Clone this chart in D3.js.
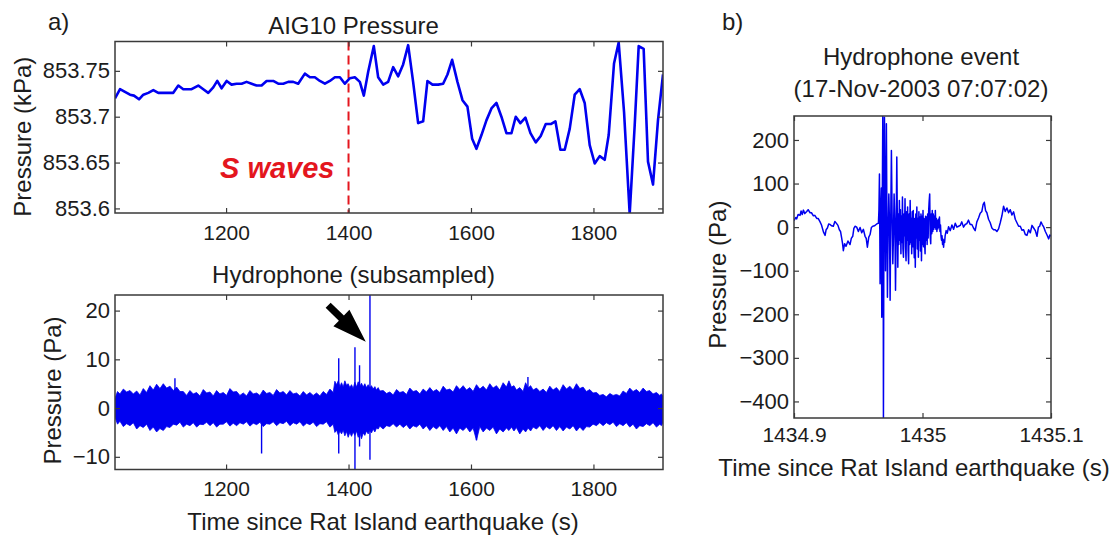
<!DOCTYPE html>
<html>
<head>
<meta charset="utf-8">
<script src="https://cdn.jsdelivr.net/npm/d3@7"></script>
<style>
  html, body { margin: 0; padding: 0; background: #ffffff; }
  svg text { font-family: "Liberation Sans", Arial, Helvetica, sans-serif; fill: #1c1c1c; }
</style>
</head>
<body>
<svg id="fig" width="1118" height="536"></svg>
<script>
// ---------- AIG10 absolute pressure (kPa) ----------
const aigTime = [
  1018.6,1026.8,1034.9,1043.1,1049.6,1057.8,1064.9,1073.0,1081.2,1089.3,
  1097.5,1113.8,1122.0,1130.1,1143.7,1154.6,1162.8,1170.9,1179.1,1185.6,
  1192.7,1200.9,1209.0,1217.2,1225.4,1233.5,1241.7,1249.8,1258.0,1266.2,
  1277.0,1285.2,1293.4,1301.5,1309.7,1317.8,1328.7,1336.9,1345.0,1353.2,
  1361.4,1369.5,1377.7,1385.9,1394.0,1402.2,1410.3,1418.5,1425.0,1432.1,
  1441.3,1448.4,1456.6,1464.7,1472.9,1481.1,1489.2,1497.4,1505.5,1513.7,
  1521.9,1528.9,1537.1,1546.4,1554.5,1561.6,1569.2,1577.9,1586.1,1594.2,
  1601.9,1608.9,1617.1,1625.2,1633.4,1641.6,1649.7,1657.9,1666.1,1673.1,
  1680.7,1688.9,1697.1,1705.8,1713.9,1722.1,1730.3,1737.9,1746.0,1753.1,
  1761.3,1769.4,1777.6,1785.7,1793.9,1802.1,1810.2,1818.4,1824.9,1833.6,
  1841.2,1850.0,1859.2,1867.4,1873.9,1882.0,1889.1,1897.3,1905.4,1913.6
];
const aigPressure = [
  853.720,853.730,853.727,853.724,853.723,853.719,853.724,853.726,853.729,853.726,
  853.726,853.726,853.734,853.730,853.730,853.734,853.730,853.726,853.732,853.739,
  853.731,853.739,853.735,853.736,853.736,853.738,853.736,853.734,853.734,853.739,
  853.739,853.736,853.736,853.738,853.738,853.736,853.747,853.743,853.743,853.739,
  853.736,853.739,853.743,853.743,853.736,853.742,853.743,853.738,853.723,853.749,
  853.777,853.743,853.735,853.738,853.754,853.744,853.757,853.778,853.738,853.693,
  853.695,853.739,853.735,853.735,853.736,853.746,853.762,853.738,853.718,853.711,
  853.676,853.665,853.680,853.696,853.709,853.715,853.700,853.682,853.682,853.700,
  853.693,853.699,853.682,853.672,853.679,853.692,853.692,853.695,853.664,853.664,
  853.687,853.724,853.730,853.715,853.669,853.649,853.657,853.653,853.680,853.758,
  853.781,853.705,853.594,853.691,853.777,853.774,853.651,853.626,853.696,853.746
];
const sWaveTime = 1400;

// ---------- subsampled hydrophone record (Pa) ----------
// noise band: troughs of the ragged edge ...
const hydTime = [
  1018.6,1026.7,1037.6,1048.5,1059.4,1070.2,1081.1,1092.0,1102.9,1113.8,
  1124.7,1135.5,1146.4,1157.3,1168.2,1179.1,1189.9,1200.8,1211.7,1222.6,
  1233.5,1244.4,1255.3,1266.1,1277.0,1287.9,1298.8,1309.7,1320.6,1331.5,
  1342.3,1353.2,1364.1,1375.0,1380.4,1385.9,1391.3,1396.7,1402.1,1407.6,
  1413.0,1418.5,1423.9,1429.3,1434.8,1440.2,1445.7,1451.1,1462.0,1472.9,
  1483.8,1494.7,1505.5,1516.4,1527.3,1538.2,1549.1,1560.0,1570.8,1581.7,
  1592.6,1603.5,1614.4,1625.3,1636.1,1647.0,1657.9,1666.1,1674.2,1685.1,
  1693.3,1701.5,1712.4,1723.2,1734.1,1745.0,1755.9,1766.8,1777.7,1788.5,
  1799.4,1810.3,1821.2,1832.1,1843.0,1853.8,1864.7,1875.6,1886.5,1897.4,
  1908.3,1913.7
];
const hydUpper = [
  2.0,2.9,3.3,2.9,2.7,3.2,3.7,4.0,4.1,3.6,
  3.4,2.6,2.9,2.5,3.1,2.5,2.9,2.6,3.3,2.6,
  2.5,2.9,2.6,3.0,2.6,3.1,2.7,2.9,2.5,2.7,
  2.6,2.5,2.8,3.2,4.8,4.4,4.3,4.7,4.2,4.0,
  4.3,4.5,4.3,4.2,4.1,3.9,3.7,3.5,3.0,2.7,
  3.2,2.8,3.4,2.9,3.3,3.4,3.2,3.7,3.3,3.8,
  3.7,3.4,3.9,3.7,4.1,3.7,4.3,4.3,3.7,3.4,
  4.1,3.7,3.4,3.2,3.7,3.4,3.9,3.7,4.0,3.4,
  3.1,2.6,2.3,2.6,2.5,3.0,3.4,3.2,3.4,2.9,
  2.6,2.4
];
const hydLower = [
  -1.9,-2.7,-3.2,-3.0,-3.6,-3.3,-3.9,-4.2,-3.8,-3.3,
  -2.9,-3.3,-3.0,-3.3,-2.9,-3.0,-3.3,-2.8,-3.1,-3.0,
  -2.8,-3.1,-2.9,-3.2,-2.8,-3.0,-2.7,-3.0,-2.8,-3.1,
  -2.9,-3.2,-2.8,-3.3,-4.5,-4.7,-4.5,-4.8,-5.0,-4.9,
  -4.7,-5.0,-5.1,-4.7,-4.5,-4.3,-4.1,-3.7,-3.6,-3.2,
  -3.3,-3.4,-3.6,-3.3,-3.6,-3.8,-3.6,-3.8,-4.1,-4.1,
  -3.9,-4.1,-3.8,-4.1,-3.9,-4.3,-4.1,-3.9,-4.0,-4.3,
  -4.1,-3.9,-3.6,-3.8,-3.6,-3.8,-3.9,-3.6,-3.9,-3.8,
  -3.3,-3.0,-3.0,-2.9,-3.2,-3.0,-3.3,-3.6,-3.2,-3.0,
  -3.3,-3.0
];
// ... and peaks of the ragged edge
const fringeTime = [
  1022.7,1032.2,1043.1,1054.0,1064.8,1075.7,1086.6,1097.5,1108.4,1119.3,
  1130.1,1141.0,1151.9,1162.8,1173.7,1184.5,1195.4,1206.3,1217.2,1228.1,
  1239.0,1249.9,1260.7,1271.6,1282.5,1293.4,1304.3,1315.2,1326.1,1336.9,
  1347.8,1358.7,1369.6,1377.7,1383.2,1388.6,1394.0,1399.4,1404.9,1410.3,
  1415.8,1421.2,1426.6,1432.1,1437.5,1443.0,1448.4,1456.6,1467.5,1478.4,
  1489.3,1500.1,1511.0,1521.9,1532.8,1543.7,1554.6,1565.4,1576.3,1587.2,
  1598.1,1609.0,1619.9,1630.7,1641.6,1652.5,1662.0,1670.2,1679.7,1689.2,
  1697.4,1707.0,1717.8,1728.7,1739.6,1750.5,1761.4,1772.3,1783.1,1794.0,
  1804.9,1815.8,1826.7,1837.6,1848.4,1859.3,1870.2,1881.1,1892.0,1902.9,
  1911.0
];
const fringeHigh = [
  3.4,3.9,3.6,3.5,4.0,4.6,4.9,5.0,4.5,4.3,
  3.4,3.6,3.2,3.8,3.3,3.6,3.2,4.0,3.4,3.1,
  3.6,3.1,3.7,3.2,3.8,3.4,3.6,3.1,3.4,3.2,
  3.1,3.4,3.9,5.5,5.6,5.2,5.6,5.0,4.8,5.3,
  5.4,5.1,5.0,4.8,4.6,4.4,4.2,3.6,3.3,3.8,
  3.4,4.1,3.6,3.9,4.2,3.8,4.5,3.9,4.6,4.6,
  4.2,4.8,4.5,5.0,4.6,5.2,5.6,4.6,4.2,5.2,
  4.6,4.1,3.9,4.5,4.2,4.8,4.5,5.0,4.3,3.8,
  3.2,2.8,3.0,2.8,3.5,4.1,3.8,4.1,3.6,3.2,
  2.9
];
const fringeLow = [
  -3.3,-3.8,-3.6,-4.3,-4.0,-4.6,-4.9,-4.6,-4.0,-3.5,
  -3.9,-3.6,-3.9,-3.4,-3.6,-3.9,-3.3,-3.7,-3.6,-3.3,
  -3.7,-3.4,-3.8,-3.3,-3.6,-3.2,-3.6,-3.3,-3.7,-3.4,
  -3.8,-3.3,-3.9,-5.0,-5.5,-5.3,-5.7,-6.0,-5.8,-5.6,
  -6.0,-6.3,-5.6,-5.3,-5.1,-4.9,-4.3,-4.3,-3.8,-3.9,
  -4.0,-4.3,-3.9,-4.3,-4.6,-4.3,-4.6,-4.9,-5.3,-4.6,
  -4.9,-6.6,-4.9,-4.6,-5.3,-4.9,-4.6,-4.7,-5.3,-4.9,
  -4.7,-4.3,-4.6,-4.3,-4.6,-4.7,-4.3,-4.7,-4.6,-3.9,
  -3.6,-3.6,-3.4,-3.8,-3.6,-3.9,-4.3,-3.8,-3.6,-3.9,
  -3.6
];
// isolated spikes
const spikeTime = [1116.5, 1258.0, 1384.0, 1410.5, 1418.0, 1435.0, 1609.0, 1693.0];
const spikeHigh = [6.1, 2.5, 10.2, 12.5, 8.8, 24.0, 3.0, 6.4];
const spikeLow  = [-3.0, -9.3, -9.3, -13.0, -7.9, -10.6, -6.6, -3.0];

// arrow pointing at the event (time s, Pa)
const arrowFrom = [1366.7, 21.1];
const arrowTo   = [1428.2, 13.6];

// ---------- hydrophone event, time in ms after 1434.9 s ----------
const eventStart = 1434.9;
const eventMs = [
  0,1.3,2.1,3.2,4.7,5.5,6.4,7.3,8.4,9.9,
  11.0,12.5,13.6,15.1,16.2,17.7,18.8,20.3,21.4,22.9,
  24.2,25.0,26.0,27.0,28.1,29.3,30.6,31.8,33.2,34.2,
  35.3,36.2,37.1,37.8,38.4,39.4,40.5,42.0,43.6,44.6,
  45.7,46.6,47.5,48.8,50.1,51.4,52.7,54.0,55.3,56.2,
  57.1,58.2,59.2,60.2,61.3,62.6,63.9,64.8,65.7,66.1,
  66.5,66.8,67.0,67.5,68.0,68.3,68.7,69.1,69.35,69.6,
  70.0,70.4,70.8,71.2,71.5,71.9,72.3,72.7,73.2,73.8,
  74.3,74.8,75.3,75.8,76.3,76.9,77.4,77.9,78.5,79.0,
  79.5,
  80.0,80.4,80.8,81.2,81.6,82.0,82.4,82.8,83.2,83.6,
  84.0,84.4,84.8,85.2,85.6,86.0,86.4,86.8,87.2,87.6,
  88.0,88.4,88.8,89.2,89.6,90.0,90.4,90.8,91.2,91.6,
  92.0,92.4,92.8,93.2,93.6,94.0,94.4,94.8,95.2,95.6,
  96.0,96.4,96.8,97.2,97.6,98.0,98.4,98.8,99.2,99.6,
  100.0,100.4,100.8,101.2,101.6,102.0,102.4,102.8,103.2,103.6,
  104.0,104.4,104.8,105.2,105.6,106.0,106.4,106.8,107.2,107.6,
  108.0,108.4,108.8,109.2,109.6,110.0,110.4,110.8,111.2,111.6,
  112.0,112.4,112.8,113.2,113.6,114.0,114.4,114.8,115.2,115.6,
  116.0,116.4,116.8,117.2,117.6,
  118.4,119.3,120.3,121.6,122.9,124.2,125.5,126.8,128.1,129.4,
  130.6,131.9,133.2,134.5,135.8,137.1,138.4,139.7,141.0,142.3,
  143.6,144.9,146.2,147.2,148.1,149.1,150.1,151.4,152.7,154.0,
  155.3,156.6,157.9,159.2,160.5,161.8,163.1,164.4,165.7,167.0,
  168.3,169.6,170.9,172.2,173.5,174.8,176.1,177.4,178.7,180.0,
  181.3,182.6,183.9,185.2,186.5,187.8,189.1,190.2,191.2,192.2,
  193.2,194.4,195.6,196.9,198.2,199.1,200.0
];
const eventPa = [
  15,22,19,29,27,37,29,39,31,36,
  40,33,33,26,27,20,20,12,5,-11,
  -19,-6,-2,7,6,3,2,13,8,4,
  -6,-10,-25,-38,-54,-38,-44,-32,-40,-26,
  -21,-3,2,0,-10,-1,-13,-5,-21,-26,
  -46,-23,-17,-1,2,3,6,8,9,40,
  122,-20,-130,31,90,-207,50,256,100,-440,
  60,252,50,-100,30,237,20,-161,-20,76,
  10,-168,20,176,40,-84,-20,76,10,-145,
  -10,
  161,20,-92,30,-40,61,-30,40,-61,25,
  -35,69,-50,-69,30,-20,65,-45,-77,35,
  -30,46,-55,-84,30,-40,61,-35,20,-61,
  35,-45,38,-30,-70,20,-92,30,-25,46,
  -50,20,-69,35,-30,23,-55,30,-77,25,
  -40,38,-45,20,-35,-61,25,-30,23,-40,
  30,-25,38,60,76,-20,-38,30,-15,38,
  -10,30,-5,25,0,38,-5,20,-10,15,
  -4,18,0,23,-10,5,-20,-30,-20,-40,
  -28,-46,-30,-35,-20,
  -8,-14,1,-8,5,-5,9,0,2,4,
  12,0,6,8,16,6,6,-2,-8,12,
  21,32,36,52,57,38,33,18,10,-2,
  -6,-6,-10,-4,10,26,48,36,44,33,
  40,28,35,18,10,2,2,-7,-6,-17,
  -19,-6,-13,4,-2,-8,-21,0,2,12,
  6,0,-10,-18,-27,-18,-21
];

// ---------- tick values ----------
const timeTicks = [1200, 1400, 1600, 1800];
const aigTicks = [853.6, 853.65, 853.7, 853.75];
const aigTickLabels = ["853.6", "853.65", "853.7", "853.75"];
const hydTicks = [-10, 0, 10, 20];
const eventTimeTicks = [1434.9, 1435, 1435.1];
const eventTimeLabels = ["1434.9", "1435", "1435.1"];
const eventPaTicks = [-400, -300, -200, -100, 0, 100, 200];

// ---------- drawing ----------
const svg = d3.select("#fig");
const AXIS = "#3a3a3a", BLUE = "#0000f0", RED = "#e4161e";

function frame(id, x, y, xTicks, xFmt, yTicks, yFmt, xPad, yPad) {
  const [x0, x1] = x.range();
  const [y1, y0] = y.range();
  const g = svg.append("g");
  g.append("clipPath").attr("id", id)
    .append("rect").attr("x", x0).attr("y", y0).attr("width", x1 - x0).attr("height", y1 - y0);
  const plot = g.append("g").attr("clip-path", `url(#${id})`);

  const put = (axis, tr, size) => {
    const a = g.append("g").attr("transform", tr).call(axis);
    a.attr("font-family", null).attr("font-size", null);
    a.select(".domain").remove();
    a.selectAll(".tick line").attr("stroke", AXIS).attr("stroke-width", 1.2);
    a.selectAll(".tick text").style("font-size", size + "px");
    return a;
  };
  put(d3.axisBottom(x).tickValues(xTicks).tickFormat(xFmt).tickSizeInner(-5).tickSizeOuter(0).tickPadding(xPad),
      `translate(0,${y1})`, 21);
  put(d3.axisTop(x).tickValues(xTicks).tickFormat("").tickSizeInner(-5).tickSizeOuter(0),
      `translate(0,${y0})`, 21);
  put(d3.axisLeft(y).tickValues(yTicks).tickFormat(yFmt).tickSizeInner(-5).tickSizeOuter(0).tickPadding(yPad),
      `translate(${x0},0)`, 22);
  put(d3.axisRight(y).tickValues(yTicks).tickFormat("").tickSizeInner(-5).tickSizeOuter(0),
      `translate(${x1},0)`, 22);

  g.append("rect").attr("x", x0).attr("y", y0).attr("width", x1 - x0).attr("height", y1 - y0)
    .attr("fill", "none").attr("stroke", AXIS).attr("stroke-width", 1.5);
  return plot;
}

function text(str, x, y, opts = {}) {
  const t = svg.append("text").attr("x", x).attr("y", y).text(str)
    .attr("text-anchor", opts.anchor || "middle")
    .style("font-size", (opts.size || 24) + "px");
  if (opts.rotate) t.attr("transform", `rotate(-90,${x},${y})`);
  if (opts.bold) t.style("font-weight", "bold");
  if (opts.italic) t.style("font-style", "italic");
  if (opts.fill) t.style("fill", opts.fill);
  return t;
}

// --- panel a, top: AIG10 pressure ---
const xa = d3.scaleLinear().domain([1018.6, 1913.6]).range([115, 663]);
const ya = d3.scaleLinear().domain([853.595, 853.782]).range([213, 41.5]);
const plotA = frame("clipA", xa, ya, timeTicks, d3.format("d"),
  aigTicks, (d, i) => aigTickLabels[i], 12, 5);

plotA.append("line")
  .attr("x1", xa(sWaveTime)).attr("x2", xa(sWaveTime))
  .attr("y1", ya.range()[1]).attr("y2", ya.range()[0])
  .attr("stroke", RED).attr("stroke-width", 2).attr("stroke-dasharray", "9,5");

plotA.append("path")
  .datum(d3.range(aigTime.length))
  .attr("fill", "none").attr("stroke", BLUE).attr("stroke-width", 2.6)
  .attr("stroke-linejoin", "round")
  .attr("d", d3.line().x(i => xa(aigTime[i])).y(i => ya(aigPressure[i])));

text("S waves", xa(sWaveTime) - 14, ya(853.633), { anchor: "end", size: 29, bold: true, italic: true, fill: RED });

// --- panel a, bottom: subsampled hydrophone ---
const xh = d3.scaleLinear().domain([1018.6, 1913.6]).range([115, 663]);
const yh = d3.scaleLinear().domain([-12.6, 23.2]).range([469.5, 295]);
const plotH = frame("clipH", xh, yh, timeTicks, d3.format("d"),
  hydTicks, d3.format("d"), 12, 5);

// ragged band outline: troughs and peaks interleaved in time
const bandPts = hydTime.map((t, i) => ({ t, hi: hydUpper[i], lo: hydLower[i] }))
  .concat(fringeTime.map((t, i) => ({ t, hi: fringeHigh[i], lo: fringeLow[i] })))
  .sort((a, b) => a.t - b.t);

plotH.append("path")
  .datum(bandPts)
  .attr("fill", BLUE).attr("stroke", BLUE).attr("stroke-width", 0.8)
  .attr("stroke-linejoin", "miter")
  .attr("d", d3.area().x(d => xh(d.t)).y0(d => yh(d.lo)).y1(d => yh(d.hi)));

plotH.selectAll("line.spike").data(d3.range(spikeTime.length)).join("line")
  .attr("class", "spike")
  .attr("x1", i => xh(spikeTime[i])).attr("x2", i => xh(spikeTime[i]))
  .attr("y1", i => yh(spikeLow[i])).attr("y2", i => yh(spikeHigh[i]))
  .attr("stroke", BLUE).attr("stroke-width", 1.4);

// arrow annotation
{
  const p0 = [xh(arrowFrom[0]), yh(arrowFrom[1])];
  const p1 = [xh(arrowTo[0]), yh(arrowTo[1])];
  const dx = p1[0] - p0[0], dy = p1[1] - p0[1];
  const L = Math.hypot(dx, dy), ux = dx / L, uy = dy / L, nx = -uy, ny = ux;
  const head = 34, hw = 11.5, sw = 3.6;
  const b = [p1[0] - ux * head, p1[1] - uy * head];
  const pts = [
    [p0[0] + nx * sw, p0[1] + ny * sw],
    [b[0] + nx * sw, b[1] + ny * sw],
    [b[0] + nx * hw, b[1] + ny * hw],
    p1,
    [b[0] - nx * hw, b[1] - ny * hw],
    [b[0] - nx * sw, b[1] - ny * sw],
    [p0[0] - nx * sw, p0[1] - ny * sw]
  ];
  svg.append("polygon").attr("points", pts.map(p => p.join(",")).join(" ")).attr("fill", "#000");
}

// --- panel b: hydrophone event ---
const xe = d3.scaleLinear().domain([1434.9, 1435.1]).range([794, 1051]);
const ye = d3.scaleLinear().domain([-438, 255]).range([418, 116]);
const plotE = frame("clipE", xe, ye, eventTimeTicks, (d, i) => eventTimeLabels[i],
  eventPaTicks, d3.format("d"), 9, 5);

plotE.append("path")
  .datum(d3.range(Math.min(eventMs.length, eventPa.length)))
  .attr("fill", "none").attr("stroke", BLUE).attr("stroke-width", 1.5)
  .attr("stroke-linejoin", "round")
  .attr("d", d3.line().x(i => xe(eventStart + eventMs[i] / 1000)).y(i => ye(eventPa[i])));

// --- titles and labels ---
text("a)", 48, 30, { anchor: "start" });
text("b)", 722, 30, { anchor: "start" });
text("AIG10 Pressure", 353.5, 33.5);
text("Hydrophone (subsampled)", 353.5, 283);
text("Time since Rat Island earthquake (s)", 383, 530);
text("Pressure (kPa)", 31, 136.7, { rotate: true });
text("Pressure (Pa)", 60.5, 390.5, { rotate: true });
text("Hydrophone event", 921, 65);
text("(17-Nov-2003 07:07:02)", 921, 96.7);
text("Time since Rat Island earthquake (s)", 914, 476);
text("Pressure (Pa)", 726, 274.6, { rotate: true });
</script>
</body>
</html>
